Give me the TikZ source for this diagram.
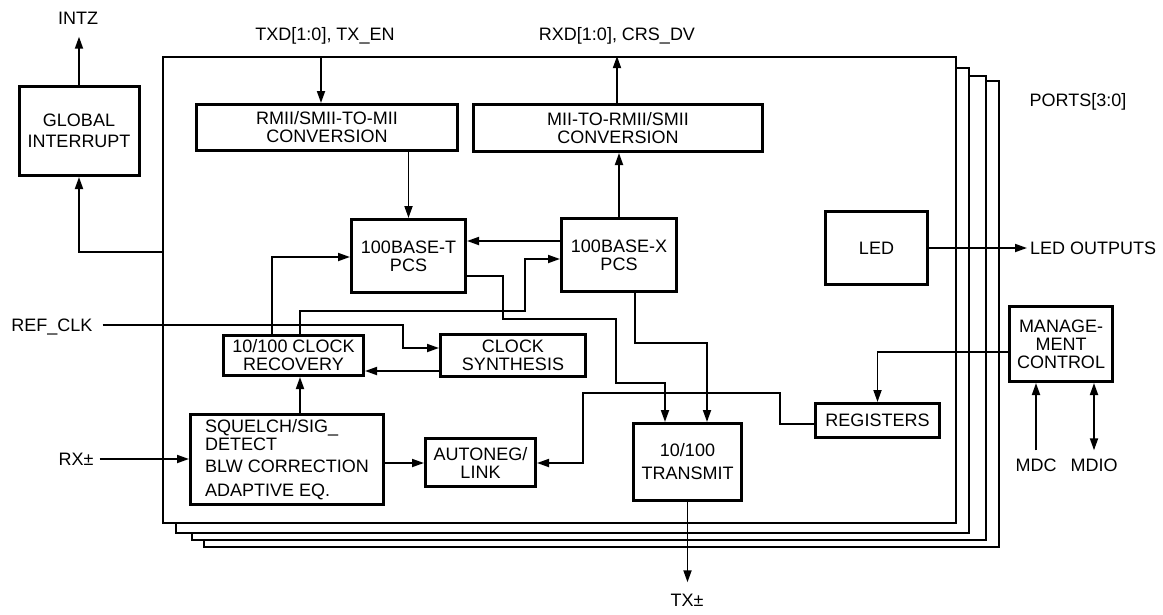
\documentclass[tikz,border=0pt]{standalone}
\usepackage{fontspec}
\setmainfont{Liberation Sans}
\usetikzlibrary{arrows.meta}

\begin{document}
\begin{tikzpicture}[x=1pt,y=-1pt,
  box/.style={draw, line width=3pt, align=center, inner sep=0pt, font=\fontsize{18}{18}\selectfont},
  lbl/.style={inner sep=0pt, text height=13pt, text depth=0pt, font=\fontsize{18}{18}\selectfont},
  wire/.style={line width=1.8pt},
  arr/.style={wire, -{Triangle[length=12pt,width=8pt]}},
  arrboth/.style={wire, {Triangle[length=12pt,width=8pt]}-{Triangle[length=12pt,width=8pt]}}]
  \useasboundingbox (0,0) rectangle (1163,614);
  % stacked port frames, back to front
  \foreach \l/\t/\r/\b in {204/81/999/547,192/76/986/540,176/68/969/533} {
    \draw[line width=1.8pt, fill=white] (\l,\t) rectangle (\r,\b);
  }
  \node[draw, line width=1.8pt, fill=white, minimum width=793pt, minimum height=466pt, inner sep=0pt] (port) at (559.5,290) {};

  % blocks
  \node[box, minimum width=120pt, minimum height=89pt] (glob) at (79,131) {GLOBAL\\[3pt]INTERRUPT};
  \node[box, minimum width=261pt, minimum height=46pt] (rmii) at (327,127.5) {RMII/SMII-TO-MII\\CONVERSION};
  \node[box, minimum width=289pt, minimum height=47pt] (mii) at (618,128) {MII-TO-RMII/SMII\\CONVERSION};
  \node[box, minimum width=114pt, minimum height=73pt] (tpcs) at (408.5,256) {100BASE-T\\PCS};
  \node[box, minimum width=115pt, minimum height=73pt] (xpcs) at (619,255) {100BASE-X\\PCS};
  \node[box, minimum width=140pt, minimum height=40pt] (clkrec) at (293.5,355.5) {10/100 CLOCK\\RECOVERY};
  \node[box, minimum width=145pt, minimum height=42pt] (clksyn) at (513,355.5) {CLOCK\\SYNTHESIS};
  \node[box, minimum width=193pt, minimum height=90pt, align=left] (squelch) at (287,459.5) {SQUELCH/SIG\_\\DETECT\\[4pt]BLW CORRECTION\\[6pt]ADAPTIVE EQ.};
  \node[box, minimum width=110pt, minimum height=48pt] (autoneg) at (480.5,462.5) {AUTONEG/\\LINK};
  \node[box, minimum width=108pt, minimum height=77pt] (xmit) at (687.5,462) {10/100\\[5pt]TRANSMIT};
  \node[box, minimum width=124pt, minimum height=34pt] (regs) at (877.5,420.5) {REGISTERS};
  \node[box, minimum width=102pt, minimum height=73pt] (led) at (876.5,248) {LED};
  \node[box, minimum width=103pt, minimum height=75pt] (mgmt) at (1061,344) {MANAGE-\\MENT\\CONTROL};

  % pin labels
  \node[lbl] (intz) at (78,18) {INTZ};
  \node[lbl] (txd) at (325,34) {TXD[1:0], TX\_EN};
  \node[lbl] (rxd) at (617,34) {RXD[1:0], CRS\_DV};
  \node[lbl] (ports) at (1078,100) {PORTS[3:0]};
  \node[lbl] (refclk) at (52,325) {REF\_CLK};
  \node[lbl] (rx) at (76,459) {RX±};
  \node[lbl] (tx) at (687,600) {TX±};
  \node[lbl, anchor=west] (ledout) at (1030,248) {LED OUTPUTS};
  \node[lbl] (mdc) at (1036,465) {MDC};
  \node[lbl] (mdio) at (1094,465) {MDIO};

  % connectors
  \draw[arr, shorten >=12pt] (glob.north) -- (glob.north |- intz.south);
  \draw[arr] (port.west |- 0,252) -| (glob.south);
  \draw[arr] (port.north -| 321,0) -- (rmii.north -| 321,0);
  \draw[arr] (mii.north -| 617,0) -- (port.north -| 617,0);
  \draw[arr] (rmii.south -| tpcs.north) -- (tpcs.north);
  \draw[arr] (xpcs.north) -- (xpcs.north |- mii.south);
  \draw[arr] (xpcs.west |- 0,241) -- (tpcs.east |- 0,241);
  \draw[arr] (clkrec.north -| 272,0) |- (tpcs.west |- 0,257);
  \draw[arr] (clkrec.north -| 300,0) |- (525,311) |- (xpcs.west |- 0,259);
  \draw[arr, shorten <=10pt] (refclk.east) -| (403,348) -- (clksyn.west |- 0,348);
  \draw[arr] (clksyn.west |- 0,371) -- (clkrec.east |- 0,371);
  \draw[arr] (tpcs.east |- 0,276) -| (503,319) -| (616,383) -| (xmit.north -| 665,0);
  \draw[arr] (xpcs.south -| 635,0) |- (707,343) -- (xmit.north -| 707,0);
  \draw[arr] (regs.west |- 0,424) -| (780,393) -| (583,463) -- (autoneg.east |- 0,463);
  \draw[arr] (squelch.east |- 0,463) -- (autoneg.west |- 0,463);
  \draw[arr] (squelch.north -| 300,0) -- (clkrec.south -| 300,0);
  \draw[arr, shorten <=6pt] (rx.east) -- (squelch.west |- rx.east);
  \draw[arr, shorten >=11pt] (xmit.south) -- (xmit.south |- tx.north);
  \draw[arr, shorten >=3pt] (led.east) -- (ledout.west);
  \draw[arr] (mgmt.west |- 0,352) -| (regs.north);
  \draw[arr, shorten <=8pt] (mdc.north) -- (mdc.north |- mgmt.south);
  \draw[arrboth, shorten <=8pt] (mdio.north) -- (mdio.north |- mgmt.south);
\end{tikzpicture}
\end{document}
